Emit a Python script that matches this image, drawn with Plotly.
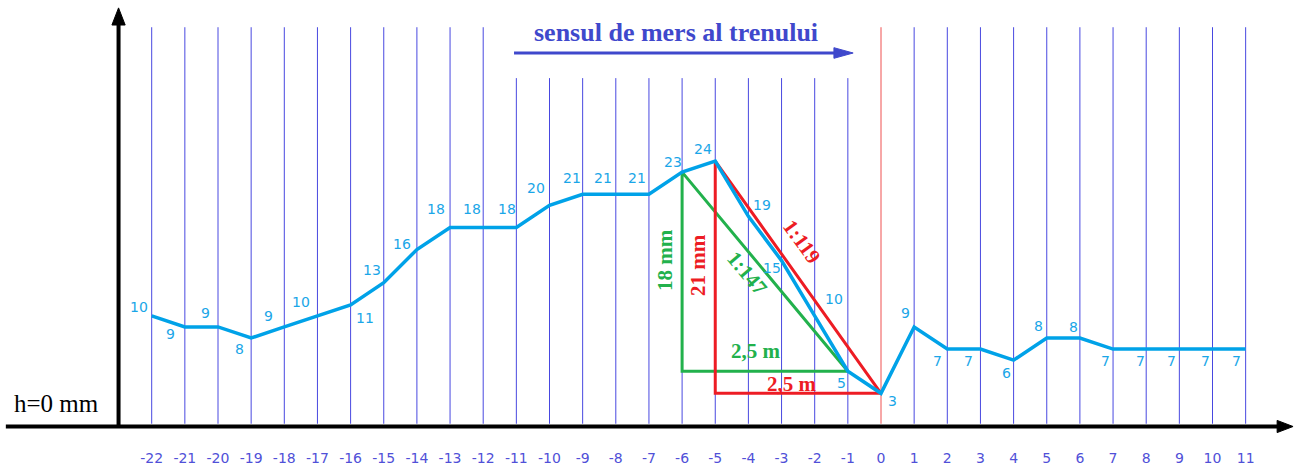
import plotly.graph_objects as go

# Track profile: station index along the rail and measured height (mm)
stations = list(range(-22, 12))
heights = [10, 9, 9, 8, 9, 10, 11, 13, 16, 18, 18, 18, 20, 21, 21, 21, 23, 24,
           19, 15, 10, 5, 3, 9, 7, 7, 6, 8, 8, 7, 7, 7, 7, 7]
tick_labels = [str(s) for s in stations]

# Label placement around each profile point (pixel shifts: right, down)
label_shift = [(-13, -9), (-14, 7), (-13, -14), (-12, 11), (-16, -11), (-16, -14),
               (14, 13), (-12, -13), (-15, -6), (-14, -18), (-11, -18), (-9, -18),
               (-14, -17), (-11, -16), (-13, -16), (-12, -16), (-9, -10), (-12, -12),
               (14, -11), (-10, 7), (19, -17), (-6, 12), (11, 8), (-9, -14),
               (-10, 12), (-12, 12), (-7, 13), (-8, -12), (-6, -11), (-8, 12),
               (-6, 12), (-8, 12), (-7, 12), (-9, 12)]

# Slope triangles: (x, h) vertices
green_tri_x = [-6, -6, -1, -6]
green_tri_h = [23, 5, 5, 23]
red_tri_x = [-5, -5, 0, -5]
red_tri_h = [24, 3, 3, 24]

W, H = 1303, 472
PX_X, X0_PX = 33.15, 881.0      # pixels per station, pixel of station 0
PX_Y, Y0_PX = 11.06, 426.5      # pixels per mm, pixel of h = 0
x_range = [-X0_PX / PX_X, (W - X0_PX) / PX_X]
y_range = [(Y0_PX - H) / PX_Y, Y0_PX / PX_Y]

CYAN = "#00A2E8"
GRID = "#4848e0"
INDIGO = "#3F48CC"
GREEN = "#22B14C"
RED = "#ED1C24"
SERIF = "Liberation Serif, Times New Roman, serif"
SANS = "DejaVu Sans, Verdana, sans-serif"

fig = go.Figure()

# Slope triangles
fig.add_trace(go.Scatter(x=green_tri_x, y=green_tri_h, mode="lines",
                         line=dict(color=GREEN, width=3), hoverinfo="skip"))
fig.add_trace(go.Scatter(x=red_tri_x, y=red_tri_h, mode="lines",
                         line=dict(color=RED, width=3), hoverinfo="skip"))

# Height profile
fig.add_trace(go.Scatter(x=stations, y=heights, mode="lines",
                         line=dict(color=CYAN, width=3.5), hoverinfo="skip"))

shapes = []
# Vertical station lines (shorter under the direction arrow, red at the origin)
for s in stations:
    top = 31.5 if -11 <= s <= -1 else 36.1
    color = "#ef5050" if s == 0 else GRID
    shapes.append(dict(type="line", xref="x", yref="y", x0=s, x1=s, y0=0.25, y1=top,
                       line=dict(color=color, width=1), layer="below"))

# Coordinate axes with arrowheads
ax_x = -23.0
shapes.append(dict(type="line", xref="x", yref="y", x0=-26.4, x1=12.1, y0=0, y1=0,
                   line=dict(color="black", width=4)))
shapes.append(dict(type="path", xref="x", yref="y",
                   path="M 11.95 0.55 L 12.43 0 L 11.95 -0.55 Z",
                   fillcolor="black", line=dict(color="black", width=1)))
shapes.append(dict(type="line", xref="x", yref="y", x0=ax_x, x1=ax_x, y0=0, y1=36.6,
                   line=dict(color="black", width=4)))
shapes.append(dict(type="path", xref="x", yref="y",
                   path=f"M {ax_x - 0.2} 36.3 L {ax_x} 37.85 L {ax_x + 0.2} 36.3 Z",
                   fillcolor="black", line=dict(color="black", width=1)))

# Direction-of-travel arrow
shapes.append(dict(type="line", xref="x", yref="y", x0=-11.07, x1=-1.2, y0=33.77, y1=33.77,
                   line=dict(color=INDIGO, width=3)))
shapes.append(dict(type="path", xref="x", yref="y",
                   path="M -1.42 34.25 L -0.84 33.77 L -1.42 33.29 Z",
                   fillcolor=INDIGO, line=dict(color=INDIGO, width=1)))

annotations = []
for s, h, (dx, dy) in zip(stations, heights, label_shift):
    annotations.append(dict(x=s, y=h, xref="x", yref="y", text=str(h), showarrow=False,
                            xshift=dx, yshift=-dy, xanchor="center", yanchor="middle",
                            font=dict(family=SANS, size=14, color="#1aa6e8")))

def label(x, y, text, color, size=21, angle=0, bold=True, family=SERIF):
    annotations.append(dict(x=x, y=y, xref="x", yref="y",
                            text=f"<b>{text}</b>" if bold else text,
                            showarrow=False, textangle=angle,
                            xanchor="center", yanchor="middle",
                            font=dict(family=family, size=size, color=color)))

label(-6.18, 35.6, "sensul de mers al trenului", INDIGO, size=26)
label(-24.86, 2.12, "h=0 mm", "black", size=25, bold=False)
label(-6.52, 15.05, "18 mm", GREEN, angle=-90)
label(-5.52, 14.6, "21 mm", RED, angle=-90)
label(-4.04, 13.9, "1:147", GREEN, angle=50)
label(-2.38, 16.7, "1:119", RED, angle=54)
label(-3.77, 6.85, "2,5 m", GREEN)
label(-2.68, 3.85, "2,5 m", RED)

fig.update_layout(
    width=W, height=H,
    margin=dict(l=0, r=0, t=0, b=0),
    paper_bgcolor="white", plot_bgcolor="white",
    showlegend=False,
    shapes=shapes,
    annotations=annotations,
    xaxis=dict(range=x_range, showgrid=False, zeroline=False, showline=False,
               tickvals=stations, ticktext=tick_labels, ticks="",
               ticklabelposition="inside", ticklabelstandoff=3,
               tickfont=dict(family=SANS, size=14, color="#5050d8"), fixedrange=True),
    yaxis=dict(range=y_range, showgrid=False, zeroline=False, showline=False,
               showticklabels=False, fixedrange=True),
)

fig.write_html("out.html")
